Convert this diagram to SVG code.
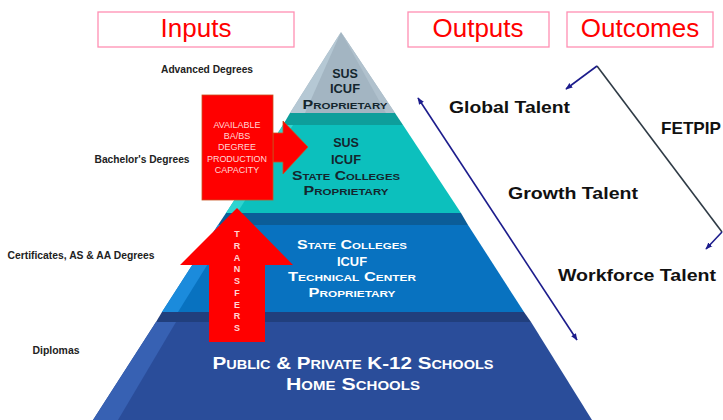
<svg xmlns="http://www.w3.org/2000/svg" width="723" height="420" viewBox="0 0 723 420">
<defs>
<style>
.hbox{fill:#fff;stroke:#ff8fb3;stroke-width:1.3}
.htxt{font-family:"Liberation Sans",Arial,sans-serif;font-size:26px;fill:#ff0000;text-anchor:middle}
.lbl{font-family:"Liberation Sans",Arial,sans-serif;font-size:10px;font-weight:bold;fill:#222;text-anchor:middle}
.tier{font-family:"Liberation Sans",Arial,sans-serif;font-weight:bold;font-variant:small-caps;text-anchor:middle}
.dark{fill:#14262e;font-size:12.5px}
.white{fill:#fff;font-size:12.5px}
.big{fill:#fff;font-size:17px}
.talent{font-family:"Liberation Sans",Arial,sans-serif;font-size:17px;font-weight:bold;fill:#111}
.red{fill:#ff0000;stroke:#c8501e;stroke-width:0.8}
.rtxt{font-family:"Liberation Sans",Arial,sans-serif;font-size:9px;fill:#ffd6d6;text-anchor:middle}
.navy{stroke:#1c1c8c;stroke-width:1.6;fill:none}
.slate{stroke:#2f3b46;stroke-width:1.6;fill:none}
</style>
<marker id="ah" viewBox="0 0 10 10" refX="9" refY="5" markerWidth="7" markerHeight="7" orient="auto-start-reverse" markerUnits="userSpaceOnUse">
<path d="M0,1 L10,5 L0,9 Z" fill="#1c1c8c"/>
</marker>
</defs>
<rect width="723" height="420" fill="#fff"/>

<g id="header-inputs"><rect class="hbox" x="98" y="12" width="196" height="35"/><text class="htxt" x="196" y="37">Inputs</text></g>
<g id="header-outputs"><rect class="hbox" x="408" y="12" width="141" height="35"/><text class="htxt" x="478" y="37">Outputs</text></g>
<g id="header-outcomes"><rect class="hbox" x="567" y="12" width="146" height="35"/><text class="htxt" x="640" y="37">Outcomes</text></g>

<g id="tier-k12">
<polygon points="162,312 524,312 531,322 156,322" fill="#213f7d"/>
<polygon points="156,322 531,322 592,420 93,420" fill="#2a4d9a"/>
<polygon points="156,322 176,322 118,420 93,420" fill="#3761b3"/>
<text class="tier big" x="353" y="369" textLength="281" lengthAdjust="spacingAndGlyphs">Public &amp; Private K-12 Schools</text>
<text class="tier big" x="353" y="390" textLength="134" lengthAdjust="spacingAndGlyphs">Home Schools</text>
</g>

<g id="tier-colleges">
<polygon points="226,213 461,213 468,225 218,225" fill="#0b5d98"/>
<polygon points="218,225 468,225 524,312 162,312" fill="#0872c0"/>
<polygon points="218,225 232,225 178,312 162,312" fill="#1b8bdc"/>
<text class="tier white" x="352" y="249" textLength="110" lengthAdjust="spacingAndGlyphs">State Colleges</text>
<text class="tier white" x="352" y="266" textLength="30" lengthAdjust="spacingAndGlyphs">ICUF</text>
<text class="tier white" x="352" y="281" textLength="128" lengthAdjust="spacingAndGlyphs">Technical Center</text>
<text class="tier white" x="352" y="297" textLength="87" lengthAdjust="spacingAndGlyphs">Proprietary</text>
</g>

<g id="tier-bachelors">
<polygon points="290,113 395,113 403,125 283,125" fill="#0e9e9b"/>
<polygon points="283,125 403,125 461,213 226,213" fill="#0cc0bd"/>
<polygon points="283,125 293,125 237,213 226,213" fill="#2fd4d0"/>
<text class="tier dark" x="346" y="147">SUS</text>
<text class="tier dark" x="346" y="164" textLength="30" lengthAdjust="spacingAndGlyphs">ICUF</text>
<text class="tier dark" x="346" y="180" textLength="108" lengthAdjust="spacingAndGlyphs">State Colleges</text>
<text class="tier dark" x="346" y="195" textLength="85" lengthAdjust="spacingAndGlyphs">Proprietary</text>
</g>

<g id="tier-advanced">
<polygon points="341,32 395,113 290,113" fill="#a3b5c2"/>
<polygon points="341,32 305,113 290,113" fill="#b5c8d4"/>
<polygon points="341,32 395,113 386,113" fill="#b0c1cd"/>
<text class="tier dark" x="345" y="78">SUS</text>
<text class="tier dark" x="345" y="93" textLength="30" lengthAdjust="spacingAndGlyphs">ICUF</text>
<text class="tier dark" x="345" y="109" textLength="85" lengthAdjust="spacingAndGlyphs">Proprietary</text>
</g>

<g id="label-advanced"><text class="lbl" x="207" y="73" textLength="92" lengthAdjust="spacingAndGlyphs">Advanced Degrees</text></g>
<g id="label-bachelors"><text class="lbl" x="142" y="163" textLength="95" lengthAdjust="spacingAndGlyphs">Bachelor's Degrees</text></g>
<g id="label-certificates"><text class="lbl" x="81" y="259" textLength="147" lengthAdjust="spacingAndGlyphs">Certificates,  AS &amp; AA Degrees</text></g>
<g id="label-diplomas"><text class="lbl" x="56" y="354" textLength="47" lengthAdjust="spacingAndGlyphs">Diplomas</text></g>

<g id="capacity-box">
<polygon class="red" points="273,133 283,133 283,121 308,147 283,174 283,162 273,162"/>
<rect class="red" x="202" y="95" width="71" height="105"/>
<text class="rtxt" x="237" y="128">AVAILABLE</text>
<text class="rtxt" x="237" y="139">BA/BS</text>
<text class="rtxt" x="237" y="150">DEGREE</text>
<text class="rtxt" x="237" y="162" textLength="60" lengthAdjust="spacing">PRODUCTION</text>
<text class="rtxt" x="237" y="173">CAPACITY</text>
</g>

<g id="transfers-arrow">
<polygon points="209,342 265,342 265,265 293,265 237,208 180,265 209,265" fill="#ff0000"/>
<text class="rtxt" font-weight="bold"><tspan x="237" y="237">T</tspan><tspan x="237" dy="11.75">R</tspan><tspan x="237" dy="11.75">A</tspan><tspan x="237" dy="11.75">N</tspan><tspan x="237" dy="11.75">S</tspan><tspan x="237" dy="11.75">F</tspan><tspan x="237" dy="11.75">E</tspan><tspan x="237" dy="11.75">R</tspan><tspan x="237" dy="11.75">S</tspan></text>
</g>

<g id="global-talent"><text class="talent" x="449" y="113" textLength="121" lengthAdjust="spacingAndGlyphs">Global Talent</text></g>
<g id="growth-talent"><text class="talent" x="508" y="199" textLength="130" lengthAdjust="spacingAndGlyphs">Growth Talent</text></g>
<g id="workforce-talent"><text class="talent" x="558" y="281" textLength="158" lengthAdjust="spacingAndGlyphs">Workforce Talent</text></g>
<g id="fetpip"><text class="talent" x="661" y="134" textLength="60" lengthAdjust="spacingAndGlyphs">FETPIP</text></g>

<g id="connectors">
<line class="navy" x1="418" y1="98" x2="577" y2="340" marker-start="url(#ah)" marker-end="url(#ah)"/>
<line class="slate" x1="597" y1="66" x2="722" y2="232"/>
<line class="navy" x1="597" y1="66" x2="566" y2="89" marker-end="url(#ah)"/>
<line class="navy" x1="722" y1="232" x2="706" y2="249" marker-end="url(#ah)"/>
</g>
</svg>
